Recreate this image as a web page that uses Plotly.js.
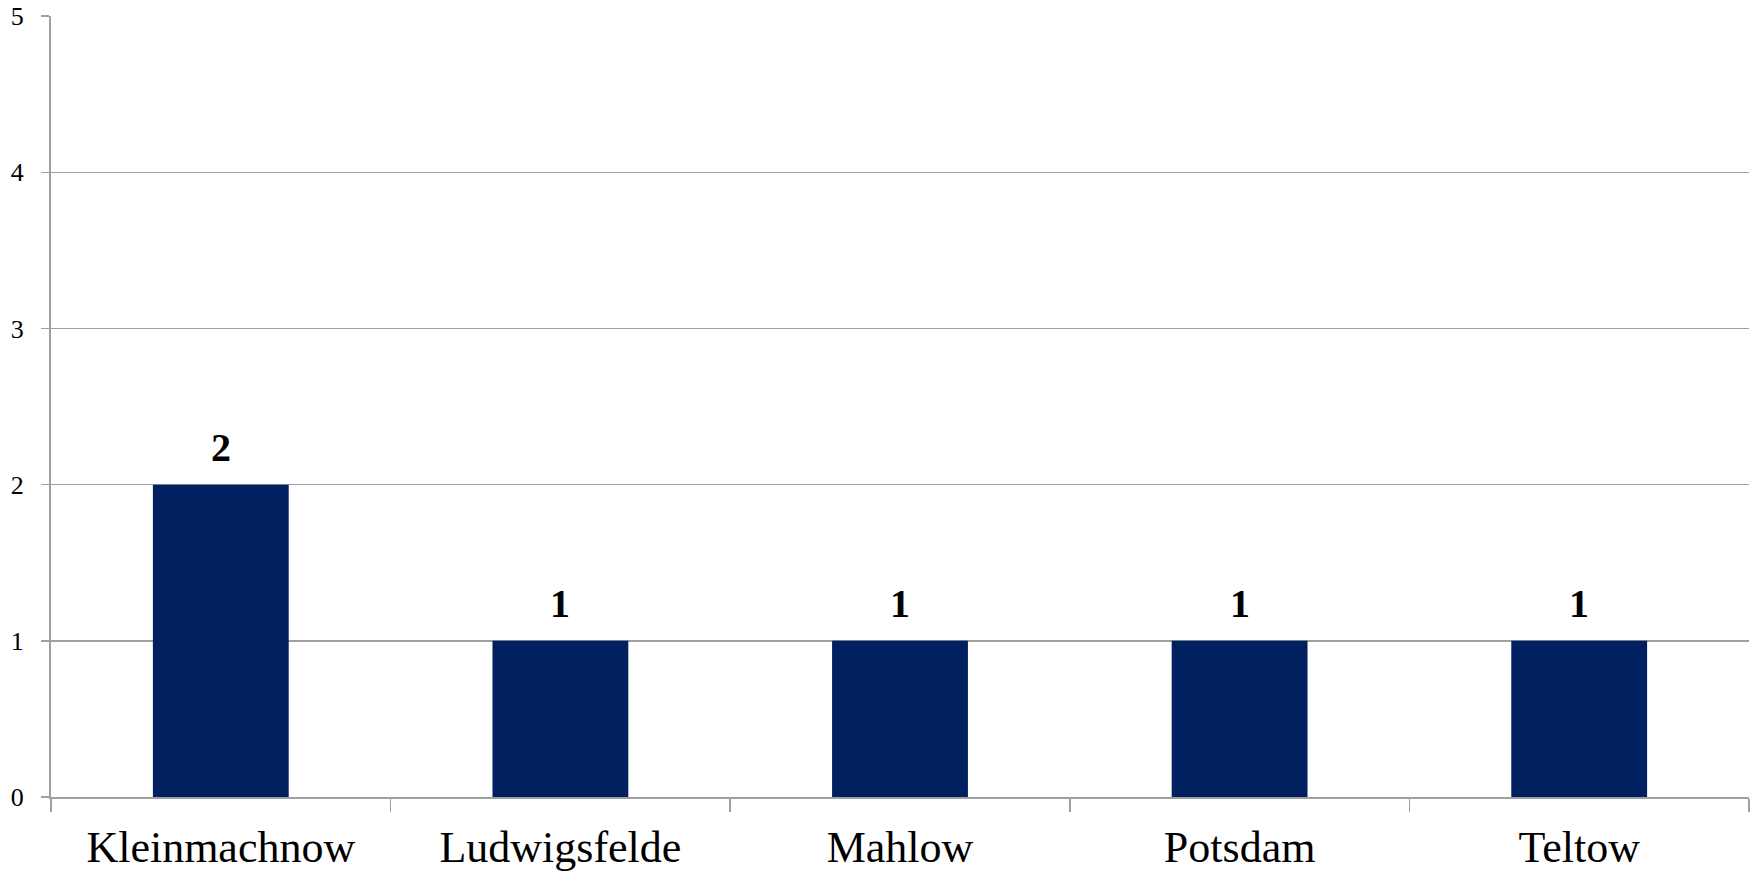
<!DOCTYPE html>
<html>
<head>
<meta charset="utf-8">
<script src="https://cdn.plot.ly/plotly-3.0.1.min.js"></script>
<style>
  html, body { margin: 0; padding: 0; background: #ffffff; }
  #chart { width: 1758px; height: 873px; }
</style>
</head>
<body>
<div id="chart"></div>
<script>
const categories = ["Kleinmachnow", "Ludwigsfelde", "Mahlow", "Potsdam", "Teltow"];
const values = [2, 1, 1, 1, 1];
const yTickValues = [0, 1, 2, 3, 4, 5];

const serif = "Liberation Serif, DejaVu Serif, serif";

const trace = {
  type: "bar",
  x: categories,
  y: values,
  marker: { color: "#002060" },
  hoverinfo: "x+y"
};

const annotations = categories.map((c, i) => ({
  x: c,
  y: values[i],
  text: "<b>" + values[i] + "</b>",
  showarrow: false,
  xanchor: "center",
  yanchor: "bottom",
  yshift: 13,
  font: { family: serif, size: 40, color: "#000000" }
}));

const layout = {
  width: 1758,
  height: 873,
  margin: { l: 51, r: 9, t: 16, b: 76 },
  paper_bgcolor: "#ffffff",
  plot_bgcolor: "#ffffff",
  bargap: 0.6,
  showlegend: false,
  font: { family: serif, color: "#000000", size: 26 },
  xaxis: {
    type: "category",
    showgrid: false,
    showline: true,
    linecolor: "#a0a0a0",
    linewidth: 2,
    ticks: "outside",
    tickson: "boundaries",
    ticklen: 13,
    tickwidth: 1.5,
    tickcolor: "#a0a0a0",
    ticklabelstandoff: 10,
    tickfont: { family: serif, size: 44, color: "#000000" },
    fixedrange: true
  },
  yaxis: {
    range: [0, 5.0005],
    tickmode: "array",
    tickvals: yTickValues,
    ticktext: yTickValues.map(String),
    ticklabeloverflow: "allow",
    automargin: false,
    showgrid: true,
    gridcolor: "#a0a0a0",
    gridwidth: 1.5,
    zeroline: false,
    showline: true,
    linecolor: "#a0a0a0",
    linewidth: 2,
    ticks: "outside",
    ticklen: 8,
    tickwidth: 1.5,
    tickcolor: "#a0a0a0",
    ticklabelstandoff: 12,
    tickfont: { family: serif, size: 26, color: "#000000" },
    fixedrange: true
  },
  annotations: annotations
};

Plotly.newPlot("chart", [trace], layout, { displayModeBar: false, staticPlot: true });
</script>
</body>
</html>
